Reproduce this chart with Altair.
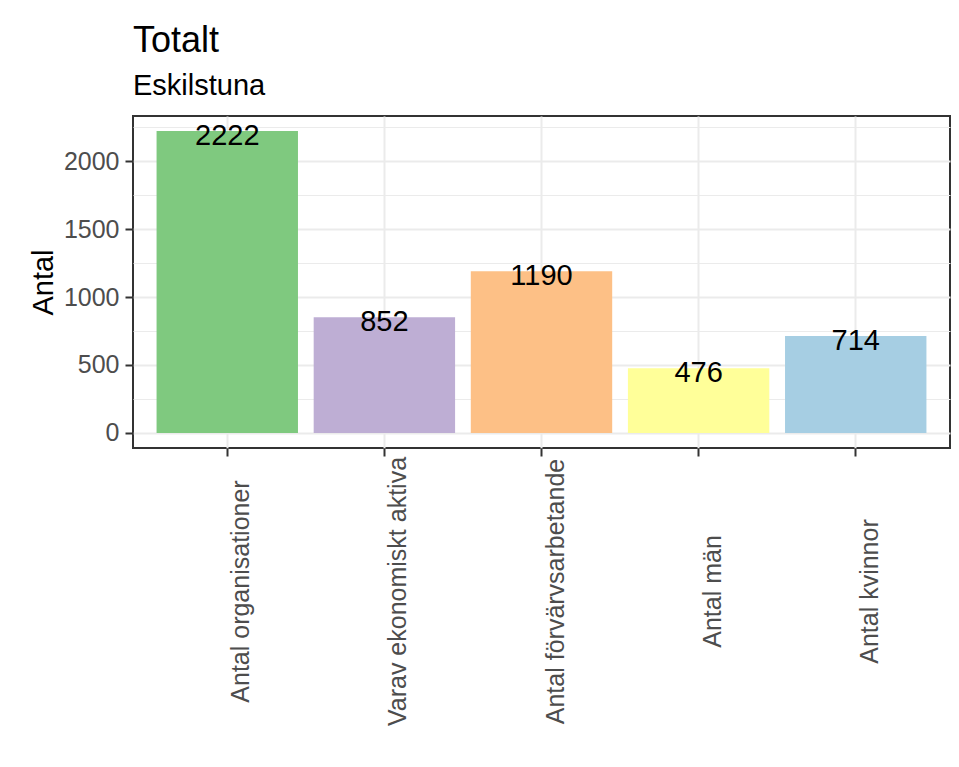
import altair as alt
import pandas as pd

categories = ["Antal organisationer", "Varav ekonomiskt aktiva", "Antal förvärvsarbetande", "Antal män", "Antal kvinnor"]
values = [2222, 852, 1190, 476, 714]
colors = ["#7FC97F", "#BEAED4", "#FDC086", "#FFFF99", "#A6CEE3"]
major_breaks = [0, 500, 1000, 1500, 2000]
minor_breaks = [250, 750, 1250, 1750, 2250]

df = pd.DataFrame({"kategori": categories, "antal": values})

FONT = "Liberation Sans"
ymax = max(values)
ydomain = [-0.05 * ymax, 1.05 * ymax]
grid_vals = sorted(major_breaks + minor_breaks)

x_enc = alt.X(
    "kategori:N",
    sort=categories,
    scale=alt.Scale(paddingInner=0.1, paddingOuter=0.15),
    axis=alt.Axis(
        title=None,
        labelAngle=270,
        labelAlign="center",
        labelBaseline="top",
        labelPadding=135,
        labelOffset=2,
        labelLimit=0,
        labelOverlap=False,
        labelFontSize=25,
        labelFont=FONT,
        labelColor="#4D4D4D",
        tickSize=8,
        tickWidth=2,
        tickColor="#333333",
        grid=True,
        gridColor="#EBEBEB",
        gridWidth=2,
        bandPosition=0.5,
        domain=False,
    ),
)

y_enc = alt.Y(
    "antal:Q",
    scale=alt.Scale(domain=ydomain, nice=False, zero=False),
    axis=alt.Axis(
        title="Antal",
        titleFontSize=29,
        titleFont=FONT,
        titleFontWeight="normal",
        titleColor="#000000",
        titleAngle=270,
        titleBaseline="alphabetic",
        titleAlign="center",
        titleX=-81,
        titleY=166,
        values=grid_vals,
        format="d",
        labelExpr="datum.value % 500 === 0 ? datum.label : ''",
        labelFontSize=25,
        labelFont=FONT,
        labelColor="#4D4D4D",
        labelPadding=6,
        tickSize=8,
        tickWidth=2,
        tickColor={"condition": {"test": "datum.value % 500 !== 0", "value": "transparent"}, "value": "#333333"},
        grid=True,
        gridColor="#EBEBEB",
        gridWidth={"condition": {"test": "datum.value % 500 !== 0", "value": 1}, "value": 2},
        domain=False,
    ),
)

color_enc = alt.Color("kategori:N", scale=alt.Scale(domain=categories, range=colors), legend=None)

bars = alt.Chart(df).mark_bar(strokeWidth=0).encode(x=x_enc, y=y_enc, color=color_enc)

labels = alt.Chart(df).mark_text(
    baseline="alphabetic", align="center", dy=14, fontSize=29, font=FONT, color="#000000"
).encode(x=x_enc, y=y_enc, text=alt.Text("antal:Q", format="d"))

chart = (
    alt.layer(bars, labels)
    .properties(
        width=817,
        height=332,
        autosize="none",
        padding={"left": 125, "top": 108, "right": 1, "bottom": 300},
        title=alt.TitleParams(
            text="Totalt",
            subtitle="Eskilstuna",
            anchor="start",
            frame="group",
            font=FONT,
            fontSize=36,
            fontWeight="normal",
            color="#000000",
            subtitleFont=FONT,
            subtitleFontSize=29,
            subtitleColor="#000000",
            offset=14,
            subtitlePadding=12,
        ),
    )
    .configure(background="#FFFFFF")
    .configure_view(stroke="#333333", strokeWidth=2)
)

chart.save("out.html", embed_options={"renderer": "svg", "actions": False})
